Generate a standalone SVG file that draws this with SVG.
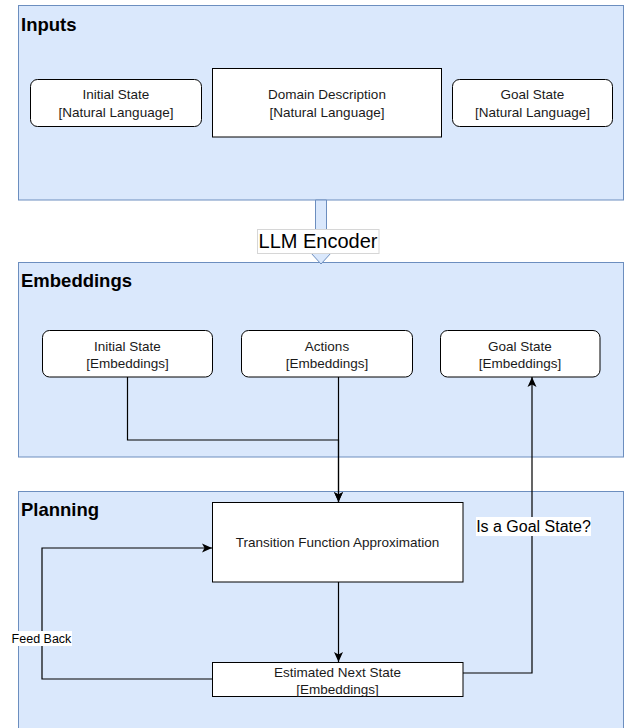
<svg xmlns="http://www.w3.org/2000/svg" width="624" height="728" viewBox="0 0 624 728">
<style>
.container{fill:#dae8fc;stroke:#6c8ebf;stroke-width:1}
.title{font-family:"Liberation Sans",Arial,sans-serif;font-weight:bold;font-size:18.5px;fill:#000}
.node{fill:#ffffff;stroke:#000;stroke-width:1}
.t{font-family:"Liberation Sans",Arial,sans-serif;font-size:13.5px;fill:#1a1a1a;text-anchor:middle}
.edge{fill:none;stroke:#000;stroke-width:1.2}
.lbl{fill:#ffffff}
</style>
<defs>
<marker id="arr" markerUnits="userSpaceOnUse" markerWidth="12" markerHeight="12" viewBox="0 0 12 12" refX="11" refY="6" orient="auto">
<path d="M1,1.5 L11,6 L1,10.5 L3.5,6 Z" fill="#000"/>
</marker>
</defs>
<g id="inputs">
<rect class="container" x="18.5" y="5.5" width="605" height="194.5"/>
<text class="title" x="21" y="31">Inputs</text>
</g>
<g id="embeddings">
<rect class="container" x="18.5" y="262.5" width="605" height="194.5"/>
<text class="title" x="21" y="287">Embeddings</text>
</g>
<g id="planning">
<rect class="container" x="18.5" y="491.5" width="605" height="250"/>
<text class="title" x="21" y="516">Planning</text>
</g>
<g id="initial-nl">
<rect class="node" x="30.5" y="79.5" width="171" height="47" rx="7"/>
<text class="t" x="116" y="99">Initial State</text>
<text class="t" x="116" y="116.5">[Natural Language]</text>
</g>
<g id="domain">
<rect class="node" x="212.5" y="68.5" width="229" height="68.5"/>
<text class="t" x="327" y="99">Domain Description</text>
<text class="t" x="327" y="116.5">[Natural Language]</text>
</g>
<g id="goal-nl">
<rect class="node" x="452.5" y="79.5" width="160" height="47" rx="7"/>
<text class="t" x="532.5" y="99">Goal State</text>
<text class="t" x="532.5" y="116.5">[Natural Language]</text>
</g>
<g id="initial-emb">
<rect class="node" x="42.5" y="330.5" width="170" height="46.5" rx="7"/>
<text class="t" x="127.5" y="350.5">Initial State</text>
<text class="t" x="127.5" y="368">[Embeddings]</text>
</g>
<g id="actions-emb">
<rect class="node" x="241.5" y="330.5" width="171" height="46.5" rx="7"/>
<text class="t" x="327" y="350.5">Actions</text>
<text class="t" x="327" y="368">[Embeddings]</text>
</g>
<g id="goal-emb">
<rect class="node" x="440.5" y="330.5" width="159.5" height="46.5" rx="7"/>
<text class="t" x="520" y="350.5">Goal State</text>
<text class="t" x="520" y="368">[Embeddings]</text>
</g>
<g id="transition">
<rect class="node" x="212.5" y="502.5" width="250.5" height="79.5"/>
<text class="t" x="337.5" y="547">Transition Function Approximation</text>
</g>
<g id="estimated">
<rect class="node" x="212.5" y="662.5" width="250.5" height="34"/>
<text class="t" x="337.5" y="676.5">Estimated Next State</text>
<text class="t" x="337.5" y="694">[Embeddings]</text>
</g>
<g id="connectors">
<g id="llm-encoder">
<polygon points="315.5,200 326.5,200 326.5,253 331,253 321,264 311,253 315.5,253" fill="#dae8fc" stroke="#6c8ebf" stroke-width="1"/>
<rect x="257.5" y="229.5" width="121.5" height="24" fill="#ffffff" stroke="#d6d6d6" stroke-width="1"/>
<text x="318" y="248" font-family="'Liberation Sans',Arial,sans-serif" font-size="20" text-anchor="middle" fill="#000">LLM Encoder</text>
</g>
<path class="edge" d="M127.5,377 V440 H338.5 V502" marker-end="url(#arr)"/>
<path class="edge" d="M338.5,377 V502" marker-end="url(#arr)"/>
<path class="edge" d="M338.5,582 V662" marker-end="url(#arr)"/>
<path class="edge" d="M463,673 H532 V377" marker-end="url(#arr)"/>
<path class="edge" d="M212.5,679 H42 V548 H212" marker-end="url(#arr)"/>
<rect class="lbl" x="476" y="517" width="115" height="19"/>
<text x="533.5" y="532" font-family="'Liberation Sans',Arial,sans-serif" font-size="16" text-anchor="middle" fill="#000">Is a Goal State?</text>
<rect class="lbl" x="11" y="631" width="61" height="15"/>
<text x="41.5" y="643" font-family="'Liberation Sans',Arial,sans-serif" font-size="12.5" text-anchor="middle" fill="#000">Feed Back</text>
</g>
</svg>
